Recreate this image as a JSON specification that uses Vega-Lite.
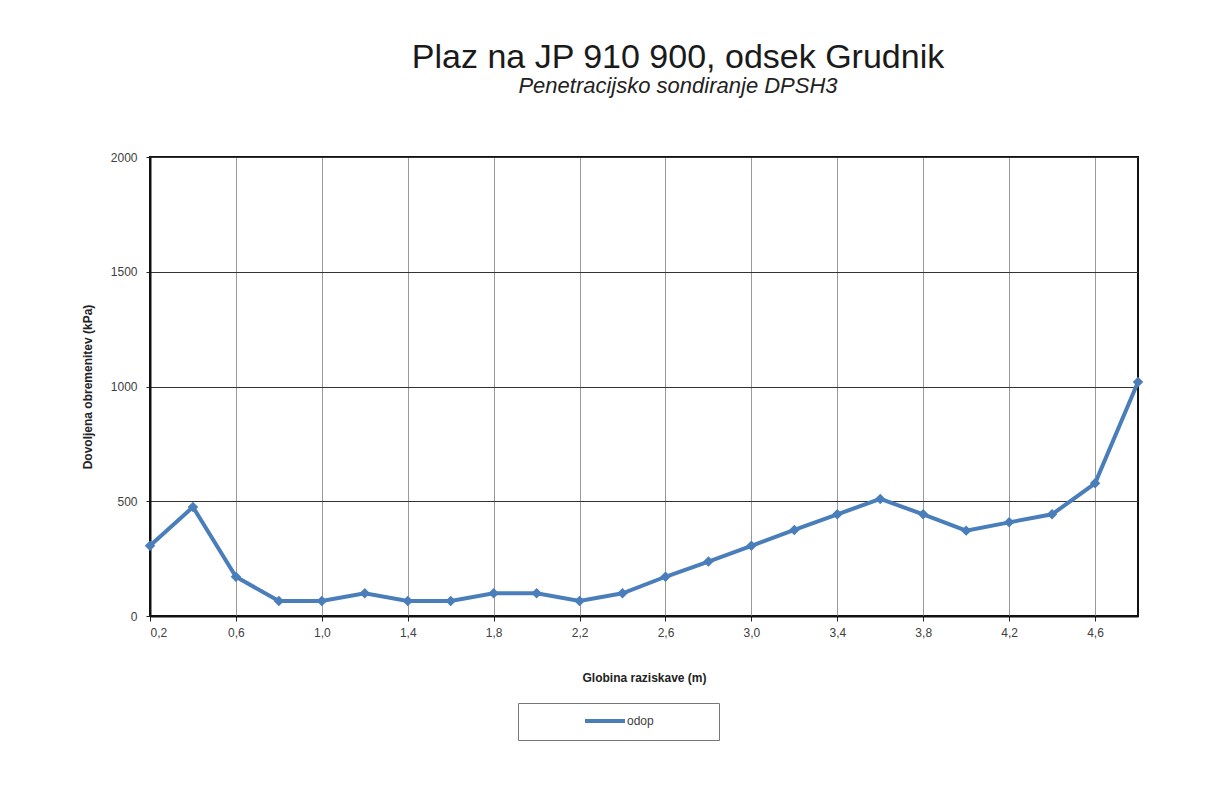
{
  "$schema": "https://vega.github.io/schema/vega-lite/v6.json",
  "width": 988,
  "height": 459,
  "autosize": {"type": "none"},
  "padding": {"left": 150, "top": 157, "right": 69, "bottom": 185},
  "background": "white",
  "title": {
    "text": "Plaz na JP 910 900, odsek Grudnik",
    "subtitle": "Penetracijsko sondiranje DPSH3",
    "anchor": "middle",
    "frame": "group",
    "dx": 34,
    "offset": 54,
    "font": "Liberation Sans",
    "fontSize": 34,
    "fontWeight": "normal",
    "color": "#1a1a1a",
    "subtitleFont": "Liberation Sans",
    "subtitleFontSize": 22,
    "subtitleFontStyle": "italic",
    "subtitleColor": "#222",
    "subtitlePadding": 1
  },
  "data": {
    "values": [
      {"globina": 0.2, "odpor": 306, "serija": "odop"},
      {"globina": 0.4, "odpor": 475, "serija": "odop"},
      {"globina": 0.6, "odpor": 171, "serija": "odop"},
      {"globina": 0.8, "odpor": 65, "serija": "odop"},
      {"globina": 1.0, "odpor": 65, "serija": "odop"},
      {"globina": 1.2, "odpor": 99, "serija": "odop"},
      {"globina": 1.4, "odpor": 65, "serija": "odop"},
      {"globina": 1.6, "odpor": 65, "serija": "odop"},
      {"globina": 1.8, "odpor": 99, "serija": "odop"},
      {"globina": 2.0, "odpor": 99, "serija": "odop"},
      {"globina": 2.2, "odpor": 65, "serija": "odop"},
      {"globina": 2.4, "odpor": 99, "serija": "odop"},
      {"globina": 2.6, "odpor": 171, "serija": "odop"},
      {"globina": 2.8, "odpor": 237, "serija": "odop"},
      {"globina": 3.0, "odpor": 306, "serija": "odop"},
      {"globina": 3.2, "odpor": 375, "serija": "odop"},
      {"globina": 3.4, "odpor": 443, "serija": "odop"},
      {"globina": 3.6, "odpor": 510, "serija": "odop"},
      {"globina": 3.8, "odpor": 443, "serija": "odop"},
      {"globina": 4.0, "odpor": 372, "serija": "odop"},
      {"globina": 4.2, "odpor": 408, "serija": "odop"},
      {"globina": 4.4, "odpor": 443, "serija": "odop"},
      {"globina": 4.6, "odpor": 578, "serija": "odop"},
      {"globina": 4.8, "odpor": 1020, "serija": "odop"}
    ]
  },
  "mark": {
    "type": "line",
    "strokeWidth": 4,
    "point": {"shape": "diamond", "size": 110, "filled": true}
  },
  "encoding": {
    "x": {
      "field": "globina",
      "type": "quantitative",
      "scale": {"domain": [0.2, 4.8], "nice": false, "zero": false},
      "axis": {
        "title": "Globina raziskave (m)",
        "values": [0.2, 0.6, 1.0, 1.4, 1.8, 2.2, 2.6, 3.0, 3.4, 3.8, 4.2, 4.6],
        "labelExpr": "replace(format(datum.value, '.1f'), '.', ',')",
        "grid": true,
        "gridColor": "#9a9a9a",
        "gridWidth": 1,
        "domainColor": "#111",
        "domainWidth": 2,
        "tickColor": "#222",
        "tickSize": 5,
        "labelPadding": 6,
        "labelFont": "Liberation Sans",
        "labelFontSize": 12,
        "labelColor": "#404040",
        "titleFont": "Liberation Sans",
        "titleFontSize": 12,
        "titleFontWeight": "bold",
        "titleColor": "#222",
        "titlePadding": 34
      }
    },
    "y": {
      "field": "odpor",
      "type": "quantitative",
      "scale": {"domain": [0, 2000], "nice": false},
      "axis": {
        "title": "Dovoljena obremenitev (kPa)",
        "values": [0, 500, 1000, 1500, 2000],
        "format": "d",
        "grid": true,
        "gridColor": "#333",
        "gridWidth": 1,
        "domainColor": "#111",
        "domainWidth": 2,
        "tickColor": "#222",
        "tickSize": 4,
        "labelPadding": 9,
        "labelFont": "Liberation Sans",
        "labelFontSize": 12,
        "labelColor": "#404040",
        "titleFont": "Liberation Sans",
        "titleFontSize": 12,
        "titleFontWeight": "bold",
        "titleColor": "#222",
        "titlePadding": 16
      }
    },
    "color": {
      "field": "serija",
      "type": "nominal",
      "scale": {"range": ["#4A7EBB"]},
      "legend": {
        "title": null,
        "orient": "none",
        "legendX": 368,
        "legendY": 546,
        "symbolType": "M-1,0H7",
        "symbolStrokeWidth": 4,
        "symbolSize": 100,
        "symbolOffset": 54,
        "labelOffset": 30,
        "labelExpr": "datum.label + '\\u2003\\u2003\\u2003\\u2003\\u2002\\u200b'",
        "labelFont": "Liberation Sans",
        "labelFontSize": 12,
        "labelColor": "#404040",
        "padding": 11,
        "strokeColor": "#777",
        "fillColor": "white"
      }
    }
  },
  "config": {
    "view": {"stroke": "#111", "strokeWidth": 2}
  }
}
